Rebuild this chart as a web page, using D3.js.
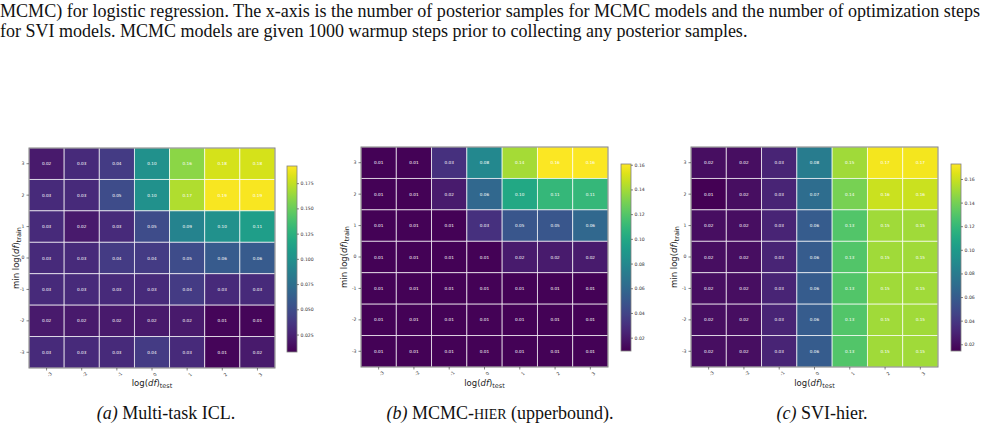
<!DOCTYPE html>
<html>
<head>
<meta charset="UTF-8">
<script src="https://cdnjs.cloudflare.com/ajax/libs/d3/7.8.5/d3.min.js"></script>
<style>
  body { margin: 0; background: #fff; }
  svg { display: block; }
  .para { font-family: "Liberation Serif", "Times New Roman", serif; font-size: 18px; fill: #111; }
  .cap { font-family: "Liberation Serif", "Times New Roman", serif; font-size: 18px; fill: #111; }
  .tick text { font-family: "DejaVu Sans", sans-serif; font-size: 4.6px; fill: #333; }
  .ax { font-family: "DejaVu Sans", sans-serif; font-size: 8.5px; fill: #222; }
  .cell { font-family: "DejaVu Sans", sans-serif; font-size: 4.2px; fill: #fff; }
</style>
</head>
<body>
<svg id="chart" width="984" height="429"></svg>
<script>
// tick labels
const xTicks = ["-3", "-2", "-1", "0", "1", "2", "3"];
const yTicks = ["3", "2", "1", "0", "-1", "-2", "-3"];

// (a) Multi-task ICL, rows top (3) to bottom (-3)
const valuesA = [
  [0.02, 0.03, 0.04, 0.10, 0.16, 0.18, 0.18],
  [0.03, 0.03, 0.05, 0.10, 0.17, 0.19, 0.19],
  [0.03, 0.02, 0.03, 0.05, 0.09, 0.10, 0.11],
  [0.03, 0.03, 0.04, 0.04, 0.05, 0.06, 0.06],
  [0.03, 0.03, 0.03, 0.03, 0.04, 0.03, 0.03],
  [0.02, 0.02, 0.02, 0.02, 0.02, 0.01, 0.01],
  [0.03, 0.03, 0.03, 0.04, 0.03, 0.01, 0.02]
];
// (b) MCMC-hier
const valuesB = [
  [0.01, 0.01, 0.03, 0.08, 0.14, 0.16, 0.16],
  [0.01, 0.01, 0.02, 0.06, 0.10, 0.11, 0.11],
  [0.01, 0.01, 0.01, 0.03, 0.05, 0.05, 0.06],
  [0.01, 0.01, 0.01, 0.01, 0.02, 0.02, 0.02],
  [0.01, 0.01, 0.01, 0.01, 0.01, 0.01, 0.01],
  [0.01, 0.01, 0.01, 0.01, 0.01, 0.01, 0.01],
  [0.01, 0.01, 0.01, 0.01, 0.01, 0.01, 0.01]
];
// (c) SVI-hier
const valuesC = [
  [0.02, 0.02, 0.03, 0.08, 0.15, 0.17, 0.17],
  [0.01, 0.02, 0.03, 0.07, 0.14, 0.16, 0.16],
  [0.02, 0.02, 0.03, 0.06, 0.13, 0.15, 0.15],
  [0.02, 0.02, 0.03, 0.06, 0.13, 0.15, 0.15],
  [0.02, 0.02, 0.03, 0.06, 0.13, 0.15, 0.15],
  [0.02, 0.02, 0.03, 0.06, 0.13, 0.15, 0.15],
  [0.02, 0.02, 0.03, 0.06, 0.13, 0.15, 0.15]
];

// colour ranges and colour bar ticks
const rangeA = [0.0077, 0.192];
const rangeB = [0.0092, 0.1606];
const rangeC = [0.0143, 0.1727];
const cbarTicksA = [0.025, 0.05, 0.075, 0.1, 0.125, 0.15, 0.175];
const cbarTicksB = [0.02, 0.04, 0.06, 0.08, 0.1, 0.12, 0.14, 0.16];
const cbarTicksC = [0.02, 0.04, 0.06, 0.08, 0.1, 0.12, 0.14, 0.16];

const paraLines = [
  "MCMC) for logistic regression. The x-axis is the number of posterior samples for MCMC models and the number of optimization steps",
  "for SVI models. MCMC models are given 1000 warmup steps prior to collecting any posterior samples."
];

const svg = d3.select("#chart");

// paragraph text above the figure
svg.append("text").attr("class", "para")
  .attr("x", 0).attr("y", 17)
  .attr("textLength", 980).attr("lengthAdjust", "spacingAndGlyphs")
  .text(paraLines[0]);
svg.append("text").attr("class", "para")
  .attr("x", 0).attr("y", 37)
  .text(paraLines[1]);

const panels = [
  {id: "a", data: valuesA, range: rangeA, cticks: cbarTicksA, fmt: ".3f",
   x0: 29, x1: 275, y0: 148, y1: 368, cx: 287, cy0: 166, cy1: 352, lx: 19},
  {id: "b", data: valuesB, range: rangeB, cticks: cbarTicksB, fmt: ".2f",
   x0: 361, x1: 608, y0: 147, y1: 367, cx: 621, cy0: 164, cy1: 351, lx: 347},
  {id: "c", data: valuesC, range: rangeC, cticks: cbarTicksC, fmt: ".2f",
   x0: 691, x1: 938, y0: 147, y1: 367, cx: 951, cy0: 164, cy1: 351, lx: 677}
];

const defs = svg.append("defs");

panels.forEach(function(p) {
  const x = d3.scaleBand().domain(xTicks).range([p.x0, p.x1]);
  const y = d3.scaleBand().domain(yTicks).range([p.y0, p.y1]);
  const color = d3.scaleSequential(d3.interpolateViridis).domain(p.range);

  const cells = [];
  p.data.forEach(function(row, i) {
    row.forEach(function(v, j) {
      cells.push({xi: xTicks[j], yi: yTicks[i], v: v});
    });
  });

  const g = svg.append("g");
  g.selectAll("rect.c").data(cells).enter().append("rect")
    .attr("x", d => x(d.xi))
    .attr("y", d => y(d.yi))
    .attr("width", x.bandwidth())
    .attr("height", y.bandwidth())
    .attr("fill", d => color(d.v))
    .attr("stroke", "#fff")
    .attr("stroke-opacity", 0.75)
    .attr("stroke-width", 0.9);

  g.selectAll("text.cell").data(cells).enter().append("text")
    .attr("class", "cell")
    .attr("x", d => x(d.xi) + x.bandwidth() / 2)
    .attr("y", d => y(d.yi) + y.bandwidth() / 2 + 1.5)
    .attr("text-anchor", "middle")
    .text(d => d3.format(".2f")(d.v));

  // frame
  g.append("rect")
    .attr("x", p.x0).attr("y", p.y0)
    .attr("width", p.x1 - p.x0).attr("height", p.y1 - p.y0)
    .attr("fill", "none").attr("stroke", "#808080").attr("stroke-width", 1);

  // axes
  const xAxis = svg.append("g")
    .attr("transform", "translate(0," + p.y1 + ")")
    .call(d3.axisBottom(x).tickSize(2.5).tickPadding(2));
  xAxis.select(".domain").remove();
  xAxis.selectAll(".tick line").attr("stroke", "#333").attr("stroke-width", 0.6);
  xAxis.selectAll(".tick text")
    .attr("text-anchor", "middle")
    .attr("dy", "0.3em")
    .attr("transform", "translate(0,3.5) rotate(-45)");

  const yAxis = svg.append("g")
    .attr("transform", "translate(" + p.x0 + ",0)")
    .call(d3.axisLeft(y).tickSize(2.5).tickPadding(2));
  yAxis.select(".domain").remove();
  yAxis.selectAll(".tick line").attr("stroke", "#333").attr("stroke-width", 0.6);

  // axis labels
  const xl = svg.append("text").attr("class", "ax")
    .attr("x", (p.x0 + p.x1) / 2).attr("y", 386)
    .attr("text-anchor", "middle");
  xl.append("tspan").text("log(");
  xl.append("tspan").attr("font-style", "italic").text("df");
  xl.append("tspan").text(")");
  xl.append("tspan").attr("font-size", "6.5px").attr("dy", 2).text("test");

  const yl = svg.append("text").attr("class", "ax")
    .attr("transform", "translate(" + p.lx + "," + (p.y0 + p.y1) / 2 + ") rotate(-90)")
    .attr("text-anchor", "middle");
  yl.append("tspan").text("min log(");
  yl.append("tspan").attr("font-style", "italic").text("df");
  yl.append("tspan").text(")");
  yl.append("tspan").attr("font-size", "6.5px").attr("dy", 2).text("train");

  // colour bar
  const cy = d3.scaleLinear().domain(p.range).range([p.cy1, p.cy0]);
  const grad = defs.append("linearGradient")
    .attr("id", "grad" + p.id)
    .attr("x1", 0).attr("y1", 1).attr("x2", 0).attr("y2", 0);
  d3.range(0, 1.0001, 0.05).forEach(function(t) {
    grad.append("stop").attr("offset", t).attr("stop-color", d3.interpolateViridis(t));
  });
  svg.append("rect")
    .attr("x", p.cx).attr("y", p.cy0)
    .attr("width", 10).attr("height", p.cy1 - p.cy0)
    .attr("fill", "url(#grad" + p.id + ")")
    .attr("stroke", "#808080").attr("stroke-width", 0.8);
  const cAxis = svg.append("g")
    .attr("transform", "translate(" + (p.cx + 10) + ",0)")
    .call(d3.axisRight(cy).tickValues(p.cticks).tickFormat(d3.format(p.fmt)).tickSize(2).tickPadding(1.5));
  cAxis.select(".domain").remove();
  cAxis.selectAll(".tick line").attr("stroke", "#333").attr("stroke-width", 0.6);
});

// captions
const caps = [
  {x: 166, label: "(a)", parts: [[" Multi-task ICL.", 0]]},
  {x: 500, label: "(b)", parts: [[" MCMC-", 0], ["HIER", 1], [" (upperbound).", 0]]},
  {x: 822, label: "(c)", parts: [[" SVI-hier.", 0]]}
];
caps.forEach(function(c) {
  const t = svg.append("text").attr("class", "cap")
    .attr("x", c.x).attr("y", 419).attr("text-anchor", "middle");
  t.append("tspan").attr("font-style", "italic").text(c.label);
  c.parts.forEach(function(pt) {
    const s = t.append("tspan").text(pt[0]);
    if (pt[1]) s.attr("font-size", "14px");
  });
});
</script>
</body>
</html>
